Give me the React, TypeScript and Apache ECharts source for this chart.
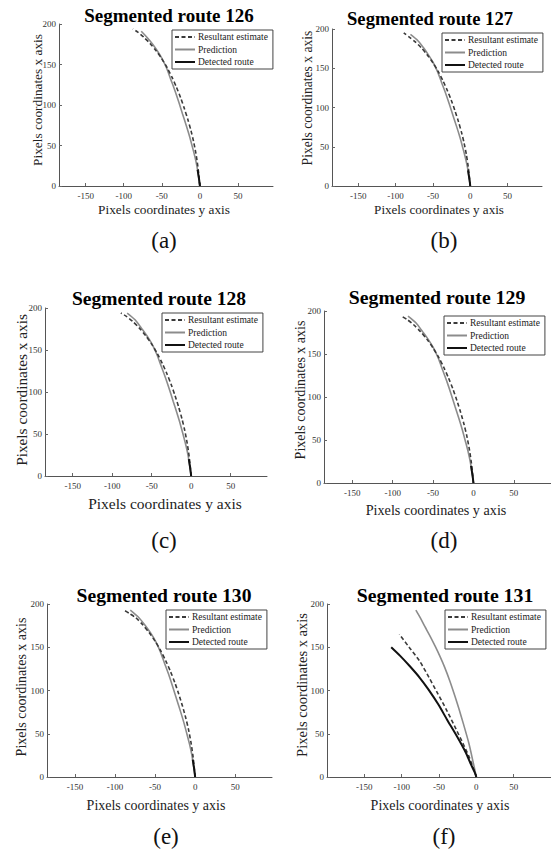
import React, { useEffect, useRef } from "react";
import * as echarts from "echarts";

const routeTitles = [
  "Segmented route 126",
  "Segmented route 127",
  "Segmented route 128",
  "Segmented route 129",
  "Segmented route 130",
  "Segmented route 131",
];
const panelLetters = ["(a)", "(b)", "(c)", "(d)", "(e)", "(f)"];
const seriesNames = ["Resultant estimate", "Prediction", "Detected route"];
const xAxisTitle = "Pixels coordinates y axis";
const yAxisTitle = "Pixels coordinates x axis";
const xTickValues = [-150, -100, -50, 0, 50];
const yTickValues = [0, 50, 100, 150, 200];

// points are [y-axis pixel coordinate, x-axis pixel coordinate]
const estimate126 = [[0, 0], [-1, 10], [-2.8, 25], [-5.2, 40], [-8.3, 55], [-11.6, 68], [-15.8, 82], [-20.5, 96], [-25.3, 109], [-30.8, 122], [-36.5, 134], [-43, 146], [-50, 157], [-57.5, 167], [-65.5, 176], [-74, 184], [-81.5, 190], [-88, 194]];
const prediction126 = [[0, 0], [-1.8, 12], [-3.8, 24], [-6.5, 36], [-9.8, 48], [-13.8, 62], [-18, 75], [-22.8, 89], [-27.5, 103], [-32.5, 117], [-38, 131], [-43.5, 145], [-49.5, 157], [-56, 167], [-62, 175], [-69, 183], [-77, 191]];
const detected126 = [[0, 0], [-1, 8], [-3, 20]];

const estimate127 = [[0, 0], [-1, 10], [-2.8, 25], [-5.2, 40], [-8.3, 55], [-11.6, 68], [-15.8, 82], [-20.5, 96], [-25.3, 109], [-30.8, 122], [-36.5, 134], [-43, 146], [-50, 157], [-57.5, 167], [-65.5, 176], [-74, 184], [-82, 190], [-89, 195]];
const prediction127 = [[0, 0], [-1.8, 12], [-3.8, 24], [-6.5, 36], [-9.8, 48], [-13.8, 62], [-18, 75], [-22.8, 89], [-27.5, 103], [-32.5, 117], [-38, 131], [-43.5, 145], [-49.5, 157], [-56, 167], [-62.5, 176], [-70, 185], [-80, 193]];
const detected127 = [[0, 0], [-1, 8], [-3, 20]];

const estimate128 = [[0, 0], [-1, 10], [-2.8, 25], [-5.2, 40], [-8.3, 55], [-11.6, 68], [-15.8, 82], [-20.5, 96], [-25.3, 109], [-30.8, 122], [-36.5, 134], [-43, 146], [-50, 157], [-57.5, 167], [-65.5, 176], [-74, 184], [-82, 190], [-89, 194]];
const prediction128 = [[0, 0], [-1.8, 12], [-3.8, 24], [-6.5, 36], [-9.8, 48], [-13.8, 62], [-18, 75], [-22.8, 89], [-27.5, 103], [-32.5, 117], [-38, 131], [-43.5, 145], [-49.5, 157], [-56, 167], [-63, 176], [-71, 186], [-81, 194]];
const detected128 = [[0, 0], [-1, 8], [-3, 20]];

const estimate129 = [[0, 0], [-1, 10], [-2.8, 25], [-5.2, 40], [-8.3, 55], [-11.6, 68], [-15.8, 82], [-20.5, 96], [-25.3, 109], [-30.8, 122], [-36.5, 134], [-43, 146], [-50, 157], [-57.5, 167], [-65.5, 176], [-74, 184], [-82, 190], [-89, 194]];
const prediction129 = [[0, 0], [-1.8, 12], [-3.8, 24], [-6.5, 36], [-9.8, 48], [-13.8, 62], [-18, 75], [-22.8, 89], [-27.5, 103], [-32.5, 117], [-38, 131], [-43.5, 145], [-49.5, 157], [-56, 167], [-63, 176], [-71, 186], [-81, 194]];
const detected129 = [[0, 0], [-1, 8], [-3, 20]];

const estimate130 = [[0, 0], [-1, 10], [-2.8, 25], [-5.2, 40], [-8.3, 55], [-11.6, 68], [-15.8, 82], [-20.5, 96], [-25.3, 109], [-30.8, 122], [-36.5, 134], [-43, 146], [-50, 157], [-57.5, 167], [-65.5, 176], [-74, 184], [-82, 189], [-89, 193]];
const prediction130 = [[0, 0], [-1.8, 12], [-3.8, 24], [-6.5, 36], [-9.8, 48], [-13.8, 62], [-18, 75], [-22.8, 89], [-27.5, 103], [-32.5, 117], [-38, 131], [-43.5, 145], [-49.5, 157], [-56, 167], [-63, 176], [-71, 185], [-81, 193]];
const detected130 = [[0, 0], [-1, 8], [-3, 20]];

const estimate131 = [[0, 0], [-4, 10], [-10, 24], [-18, 39], [-27, 55], [-39, 76], [-52, 97], [-64, 116], [-76, 134], [-90, 150], [-103, 165]];
const prediction131 = [[0, 0], [-4, 16], [-10, 39], [-17.5, 62], [-23, 78], [-28.5, 93], [-35.5, 111], [-42.5, 127], [-49, 140], [-55, 151], [-62, 163], [-69, 174], [-75, 184], [-81, 193]];
const detected131 = [[0, 0], [-2, 5], [-8, 16], [-14, 28], [-26, 47], [-39, 66], [-51, 84], [-64, 101], [-76, 115], [-89, 128], [-102, 140], [-114, 150]];

const estimates = [estimate126, estimate127, estimate128, estimate129, estimate130, estimate131];
const predictions = [prediction126, prediction127, prediction128, prediction129, prediction130, prediction131];
const detections = [detected126, detected127, detected128, detected129, detected130, detected131];

const SERIF = "Liberation Serif";

const layouts = [
  { grid: { left: 59, top: 24, width: 214, height: 162 }, xMin: -185, xMax: 96, title: [169, 15, 19], xName: [164, 209, 13.3], yName: [37, 100, 13.3], letter: [164, 240], legend: [172, 30] },
  { grid: { left: 332, top: 29, width: 210, height: 157 }, xMin: -185, xMax: 96, title: [430, 18, 18.6], xName: [439, 209, 13.1], yName: [307, 98, 13.6], letter: [444, 240], legend: [442, 33] },
  { grid: { left: 45, top: 308, width: 222, height: 168 }, xMin: -185, xMax: 96, title: [159, 298, 19.5], xName: [165, 503, 15.5], yName: [21, 390, 15.3], letter: [164, 540], legend: [162, 313] },
  { grid: { left: 324, top: 311, width: 230, height: 172 }, xMin: -185, xMax: 96, title: [437, 297, 19.8], xName: [436, 510, 14.2], yName: [300, 390, 14], letter: [444, 540], legend: [444, 316] },
  { grid: { left: 47, top: 604, width: 225, height: 173 }, xMin: -185, xMax: 96, title: [164, 595, 19.6], xName: [156, 805, 14], yName: [21, 687, 14], letter: [166, 836], legend: [166, 610] },
  { grid: { left: 327, top: 604, width: 243, height: 173 }, xMin: -200, xMax: 100, title: [445, 595, 19.8], xName: [440, 805, 14], yName: [302, 685, 14.5], letter: [444, 836], legend: [445, 610] },
];

function buildOption() {
  const grid: any[] = [];
  const xAxis: any[] = [];
  const yAxis: any[] = [];
  const series: any[] = [];
  const legend: any[] = [];
  const graphic: any[] = [];

  layouts.forEach((L, i) => {
    grid.push({ ...L.grid });
    xAxis.push({
      type: "value",
      gridIndex: i,
      min: L.xMin,
      max: L.xMax,
      axisLine: { show: true, onZero: false, lineStyle: { color: "#555", width: 1 } },
      axisTick: { show: true, inside: true, length: 3, customValues: xTickValues, lineStyle: { color: "#666" } },
      axisLabel: { customValues: xTickValues, fontFamily: SERIF, fontSize: 9, color: "#333", margin: 5 },
      splitLine: { show: false },
    });
    yAxis.push({
      type: "value",
      gridIndex: i,
      min: 0,
      max: 200,
      interval: 50,
      axisLine: { show: true, onZero: false, lineStyle: { color: "#555", width: 1 } },
      axisTick: { show: true, inside: true, length: 3, customValues: yTickValues, lineStyle: { color: "#666" } },
      axisLabel: { customValues: yTickValues, fontFamily: SERIF, fontSize: 9, color: "#333", margin: 3 },
      splitLine: { show: false },
    });
    series.push({
      type: "line",
      name: seriesNames[0],
      xAxisIndex: i,
      yAxisIndex: i,
      data: estimates[i],
      symbol: "none",
      smooth: 0.25,
      lineStyle: { color: "#3a3a3a", width: 1.6, type: [4, 2.5] },
      itemStyle: { color: "#3a3a3a" },
      z: 3,
    });
    series.push({
      type: "line",
      name: seriesNames[1],
      xAxisIndex: i,
      yAxisIndex: i,
      data: predictions[i],
      symbol: "none",
      smooth: 0.25,
      lineStyle: { color: "#8c8c8c", width: 1.6 },
      itemStyle: { color: "#8c8c8c" },
      z: 2,
    });
    series.push({
      type: "line",
      name: seriesNames[2],
      xAxisIndex: i,
      yAxisIndex: i,
      data: detections[i],
      symbol: "none",
      smooth: 0.25,
      lineStyle: { color: "#111", width: 2 },
      itemStyle: { color: "#111" },
      z: 4,
    });
    legend.push({
      left: L.legend[0],
      top: L.legend[1],
      orient: "vertical",
      data: seriesNames,
      itemWidth: 20,
      itemHeight: 8,
      itemGap: 2.5,
      selectedMode: false,
      backgroundColor: "#fff",
      borderColor: "#444",
      borderWidth: 1,
      borderRadius: 0,
      padding: [2, 5, 2, 2],
      itemStyle: { opacity: 0 },
      textStyle: { fontFamily: SERIF, fontSize: 9.5, color: "#222", padding: [0, 0, 0, -2] },
    });
    graphic.push({
      type: "text",
      x: L.title[0],
      y: L.title[1],
      style: {
        text: routeTitles[i],
        fontFamily: SERIF,
        fontWeight: "bold",
        fontSize: L.title[2],
        fill: "#000",
        align: "center",
        verticalAlign: "middle",
      },
    });
    graphic.push({
      type: "text",
      x: L.xName[0],
      y: L.xName[1],
      style: {
        text: xAxisTitle,
        fontFamily: SERIF,
        fontSize: L.xName[2],
        fill: "#222",
        align: "center",
        verticalAlign: "middle",
      },
    });
    graphic.push({
      type: "text",
      x: L.yName[0],
      y: L.yName[1],
      rotation: Math.PI / 2,
      style: {
        text: yAxisTitle,
        fontFamily: SERIF,
        fontSize: L.yName[2],
        fill: "#222",
        align: "center",
        verticalAlign: "middle",
      },
    });
    graphic.push({
      type: "text",
      x: L.letter[0],
      y: L.letter[1],
      style: {
        text: panelLetters[i],
        fontFamily: SERIF,
        fontSize: 23,
        fill: "#111",
        align: "center",
        verticalAlign: "middle",
      },
    });
  });

  return {
    animation: false,
    backgroundColor: "#fff",
    grid,
    xAxis,
    yAxis,
    series,
    legend,
    graphic,
  };
}

export default function App() {
  const ref = useRef<HTMLDivElement>(null);
  useEffect(() => {
    if (!ref.current) return;
    const chart = echarts.init(ref.current, undefined, { renderer: "svg" });
    chart.setOption(buildOption());
    return () => chart.dispose();
  }, []);
  return (
    <div
      ref={ref}
      style={{ position: "absolute", left: 0, top: 0, width: 551, height: 853, background: "#fff" }}
    />
  );
}
